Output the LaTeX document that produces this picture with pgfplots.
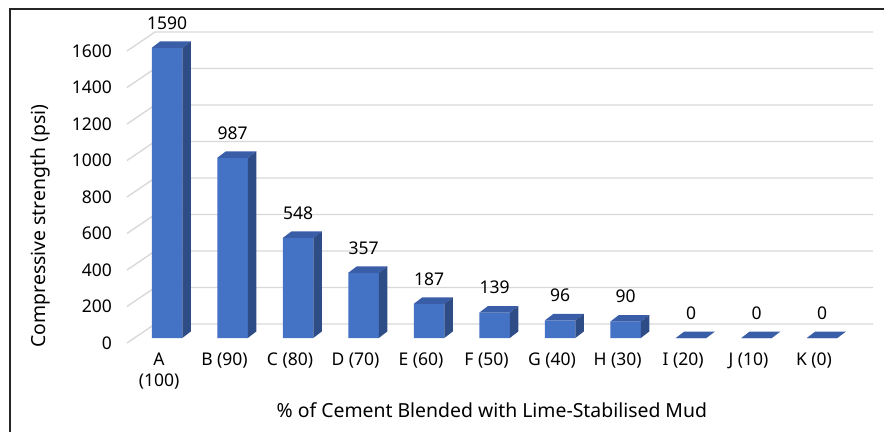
\documentclass[border=0pt]{standalone}
\usepackage{pgfplots}
\usepackage{pgfplotstable}
\pgfplotsset{compat=1.18}
\usepackage{fontspec}
\setmainfont{Noto Sans}

\definecolor{barfront}{HTML}{4472C4}
\definecolor{bartop}{HTML}{3A5DA8}
\definecolor{barside}{HTML}{2E4D87}
\definecolor{gridc}{HTML}{D9D9D9}

\newcommand\ticksize{\fontsize{17.5}{21}\selectfont}
\newcommand\titlesize{\fontsize{19.4}{23}\selectfont}

% compressive strength (psi) per mix
\pgfplotstableread{
i v
0 1590
1 987
2 548
3 357
4 187
5 139
6 96
7 90
8 0
9 0
10 0
}\strength

\begin{document}
\begin{tikzpicture}[x=1pt,y=1pt]
\path[use as bounding box] (0,0) rectangle (884,432);
\draw[line width=1.4pt,black!85] (10,0) -- (10,423) -- (884,423);
\begin{axis}[
    at={(127pt,86.7pt)}, anchor=south west,
    x=65.5pt, y=0.1825pt,
    xmin=-0.611, xmax=10.78, ymin=-40, ymax=1700,
    clip=false,
    axis line style={draw=none},
    major tick length=0pt,
    xtick={0,...,10},
    xticklabels={{A\\(100)},B (90),C (80),D (70),E (60),F (50),G (40),H (30),I (20),J (10),K (0)},
    xticklabel style={align=center, anchor=north, inner sep=0pt, xshift=-8pt, yshift=-7pt, font=\ticksize},
    ytick={0,200,...,1600},
    yticklabel style={anchor=east, inner sep=0pt, xshift=-15pt, yshift=-5pt, font=\ticksize},
    /pgf/number format/1000 sep={},
    /pgf/number format/assume math mode=true,
    xlabel={\% of Cement Blended with Lime-Stabilised Mud},
    xlabel style={at={([yshift=-64.7pt]rel axis cs:0.489,0)}, anchor=center, font=\titlesize},
    ylabel={Compressive strength (psi)},
    ylabel style={at={([xshift=-87pt]rel axis cs:0,0.3757)}, anchor=center, font=\titlesize},
]
% back wall gridlines
\foreach \g in {0,200,...,1600}{
    \pgfmathsetmacro\ga{\g-27.4}
    \pgfmathsetmacro\gb{\g+76.7}
    \edef\temp{\noexpand\addplot[gridc, line width=1.4pt, forget plot]
        coordinates {(-0.611,\ga) (-0.183,\gb) (10.78,\gb)};}
    \temp
}
% bar fronts
\addplot[ybar, bar width=0.466, bar shift=0pt, fill=barfront, draw=none,
    nodes near coords, nodes near coords style={anchor=center, yshift=25pt, font=\ticksize, text=black}]
    table[x=i, y=v]{\strength};
% bar tops and sides
\foreach \r in {0,...,10}{
    \pgfplotstablegetelem{\r}{v}\of\strength
    \let\v\pgfplotsretval
    \pgfmathsetmacro\xa{\r-0.233}
    \pgfmathsetmacro\xb{\r+0.233}
    \pgfmathsetmacro\xc{\r+0.233+0.13}
    \pgfmathsetmacro\xd{\r-0.233+0.13}
    \pgfmathsetmacro\vt{\v+35.6}
    \edef\temp{\noexpand\addplot[draw=none, fill=bartop, forget plot]
        coordinates {(\xa,\v) (\xb,\v) (\xc,\vt) (\xd,\vt)};
      \noexpand\addplot[draw=none, fill=barside, forget plot]
        coordinates {(\xb,0) (\xc,35.6) (\xc,\vt) (\xb,\v)};}
    \temp
}
\end{axis}
\end{tikzpicture}
\end{document}
